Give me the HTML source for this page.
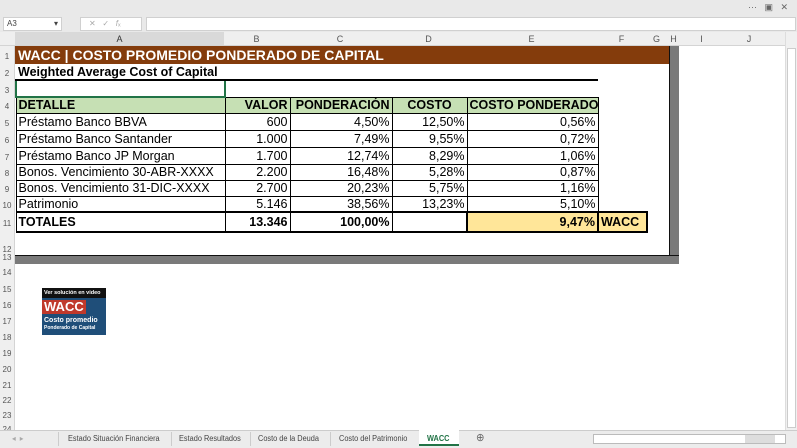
<!DOCTYPE html>
<html><head><meta charset="utf-8"><style>
*{margin:0;padding:0;box-sizing:border-box}
body{width:797px;height:448px;overflow:hidden;background:#fff;font-family:"Liberation Sans",Arial,sans-serif;position:relative}
.a{position:absolute}
.top{left:0;top:0;width:797px;height:32px;background:#e9e9e9}
.colh{left:0;top:32px;width:785px;height:14px;background:#efefef;border-bottom:1px solid #d4d4d4;font-size:9px;color:#555}
.colh span{position:absolute;top:2px;text-align:center}
.rowh{left:0;top:46px;width:15px;height:384px;background:#efefef;border-right:1px solid #d4d4d4;font-size:8px;color:#555}
.rowh span{position:absolute;left:0;width:14px;text-align:center}
table{position:absolute;left:15px;top:46px;width:631px;border-collapse:collapse;table-layout:fixed;font-size:12.5px;color:#000}
td{padding:0 2px;white-space:nowrap;overflow:visible}
.b td.c{border:1px solid #000}
.r{text-align:right}
.h td.c{background:#c6e0b4;font-weight:bold;font-size:12.5px}
.tab{position:absolute;top:434px;font-size:8px;color:#444;transform:scaleX(0.92);transform-origin:left}
.sep{position:absolute;top:432px;width:1px;height:14px;background:#ccc}
</style></head><body>
<div class="a top">
  <div class="a" style="left:748px;top:2px;font-size:9px;color:#666">···&nbsp;&nbsp;&nbsp;▣&nbsp;&nbsp;&nbsp;✕</div>
  <div class="a" style="left:3px;top:17px;width:59px;height:14px;background:#fff;border:1px solid #d0d0d0;font-size:8px;color:#444;padding:1px 3px">A3<span style="float:right">▾</span></div>
  <div class="a" style="left:80px;top:17px;width:62px;height:14px;background:#fff;border:1px solid #d0d0d0;font-size:8px;color:#aaa;padding:1px 8px">✕&nbsp;&nbsp;&nbsp;✓&nbsp;&nbsp;&nbsp;<i>f</i>ₓ</div>
  <div class="a" style="left:146px;top:17px;width:650px;height:14px;background:#fff;border:1px solid #d0d0d0"></div>
</div>
<div class="a colh">
  <span style="left:15px;width:209px;background:#d9d9d9;height:13px;top:0;padding-top:2px;color:#333">A</span>
  <span style="left:224px;width:65px">B</span><span style="left:289px;width:102px">C</span>
  <span style="left:391px;width:75px">D</span><span style="left:466px;width:131px">E</span>
  <span style="left:597px;width:49px">F</span><span style="left:646px;width:21px">G</span>
  <span style="left:667px;width:13px">H</span><span style="left:680px;width:43px">I</span><span style="left:723px;width:52px">J</span>
</div>
<div class="a rowh">
  <span style="top:6px">1</span><span style="top:23px">2</span><span style="top:40px">3</span><span style="top:56px">4</span>
  <span style="top:73px">5</span><span style="top:90px">6</span><span style="top:107px">7</span><span style="top:123px">8</span>
  <span style="top:139px">9</span><span style="top:155px">10</span><span style="top:173px">11</span><span style="top:199px">12</span>
  <span style="top:207px">13</span><span style="top:222px">14</span><span style="top:239px">15</span><span style="top:255px">16</span>
  <span style="top:271px">17</span><span style="top:287px">18</span><span style="top:303px">19</span><span style="top:319px">20</span>
  <span style="top:335px">21</span><span style="top:350px">22</span><span style="top:365px">23</span><span style="top:379px">24</span>
</div>
<div class="a" style="left:785px;top:32px;width:12px;height:398px;background:#f0f0f0;border-left:1px solid #ddd"></div>
<div class="a" style="left:787px;top:48px;width:9px;height:380px;background:#fff;border:1px solid #ccc"></div>
<div class="a" style="left:669px;top:46px;width:10px;height:218px;background:#7a7a7a;border-left:1px solid #111"></div>
<div class="a" style="left:15px;top:255px;width:664px;height:9px;background:#7a7a7a;border-top:1px solid #111"></div>
<div class="a" style="left:15px;top:46px;width:654px;height:18px;background:#843c0c"></div>
<table>
<colgroup><col style="width:209px"><col style="width:65px"><col style="width:102px"><col style="width:75px"><col style="width:131px"><col style="width:49px"></colgroup>
<tr style="height:18px"><td colspan="6" style="color:#fff;font-weight:bold;font-size:14px;padding-left:2px">WACC | COSTO PROMEDIO PONDERADO DE CAPITAL</td></tr>
<tr style="height:16px"><td colspan="5" style="font-weight:bold;font-size:12.5px;border-bottom:2px solid #000">Weighted Average Cost of Capital</td><td></td></tr>
<tr style="height:17px"><td style="border:2px solid #217346"></td><td colspan="5"></td></tr>
<tbody class="b">
<tr class="h" style="height:16px"><td class="c">DETALLE</td><td class="c r">VALOR</td><td class="c r">PONDERACIÓN</td><td class="c" style="text-align:center">COSTO</td><td class="c">COSTO PONDERADO</td><td></td></tr>
<tr style="height:17px"><td class="c">Préstamo Banco BBVA</td><td class="c r">600</td><td class="c r">4,50%</td><td class="c r">12,50%</td><td class="c r">0,56%</td><td></td></tr>
<tr style="height:17px"><td class="c">Préstamo Banco Santander</td><td class="c r">1.000</td><td class="c r">7,49%</td><td class="c r">9,55%</td><td class="c r">0,72%</td><td></td></tr>
<tr style="height:17px"><td class="c">Préstamo Banco JP Morgan</td><td class="c r">1.700</td><td class="c r">12,74%</td><td class="c r">8,29%</td><td class="c r">1,06%</td><td></td></tr>
<tr style="height:16px"><td class="c">Bonos. Vencimiento 30-ABR-XXXX</td><td class="c r">2.200</td><td class="c r">16,48%</td><td class="c r">5,28%</td><td class="c r">0,87%</td><td></td></tr>
<tr style="height:16px"><td class="c">Bonos. Vencimiento 31-DIC-XXXX</td><td class="c r">2.700</td><td class="c r">20,23%</td><td class="c r">5,75%</td><td class="c r">1,16%</td><td></td></tr>
<tr style="height:16px"><td class="c">Patrimonio</td><td class="c r">5.146</td><td class="c r">38,56%</td><td class="c r">13,23%</td><td class="c r">5,10%</td><td></td></tr>
<tr style="height:20px;font-weight:bold;font-size:12.5px"><td class="c" style="border-top:2px solid #000;border-bottom:2px solid #000">TOTALES</td><td class="c r" style="border-top:2px solid #000;border-bottom:2px solid #000">13.346</td><td class="c r" style="border-top:2px solid #000;border-bottom:2px solid #000">100,00%</td><td class="c" style="border-top:2px solid #000;border-bottom:2px solid #000"></td><td class="c r" style="background:#ffe699;border:2px solid #000">9,47%</td><td style="background:#ffe699;border:2px solid #000;padding-left:2px">WACC</td></tr>
</tbody>
</table>
<div class="a" style="left:42px;top:288px;width:64px;height:47px;background:#1f4e79;overflow:hidden">
  <div style="background:#111;color:#fff;font-size:5.5px;font-weight:bold;height:10px;padding:2px 2px">Ver solución en video</div>
  <div style="color:#fff;font-weight:bold;font-size:13px;background:#c0392b;display:inline-block;padding:0 2px;margin-top:1px;line-height:14px">WACC</div>
  <div style="color:#fff;font-weight:bold;font-size:7px;padding-left:2px;line-height:9px">Costo promedio</div>
  <div style="color:#fff;font-weight:bold;font-size:5px;padding-left:2px">Ponderado de Capital</div>
</div>
<div class="a" style="left:0;top:430px;width:797px;height:18px;background:#ececec;border-top:1px solid #ccc"></div>
<div class="tab" style="left:12px;color:#aaa">◂ &nbsp;▸</div>
<div class="sep" style="left:58px"></div>
<div class="tab" style="left:68px">Estado Situación Financiera</div>
<div class="sep" style="left:171px"></div>
<div class="tab" style="left:179px">Estado Resultados</div>
<div class="sep" style="left:250px"></div>
<div class="tab" style="left:258px">Costo de la Deuda</div>
<div class="sep" style="left:330px"></div>
<div class="tab" style="left:339px">Costo del Patrimonio</div>
<div class="a" style="left:419px;top:430px;width:40px;height:16px;background:#fff;border-bottom:2px solid #217346"></div>
<div class="tab" style="left:427px;color:#217346;font-weight:bold">WACC</div>
<div class="tab" style="left:476px;font-size:11px;top:431px;color:#666">⊕</div>
<div class="a" style="left:593px;top:434px;width:193px;height:10px;background:#fff;border:1px solid #bbb"></div>
<div class="a" style="left:745px;top:435px;width:30px;height:8px;background:#ddd"></div>
</body></html>
